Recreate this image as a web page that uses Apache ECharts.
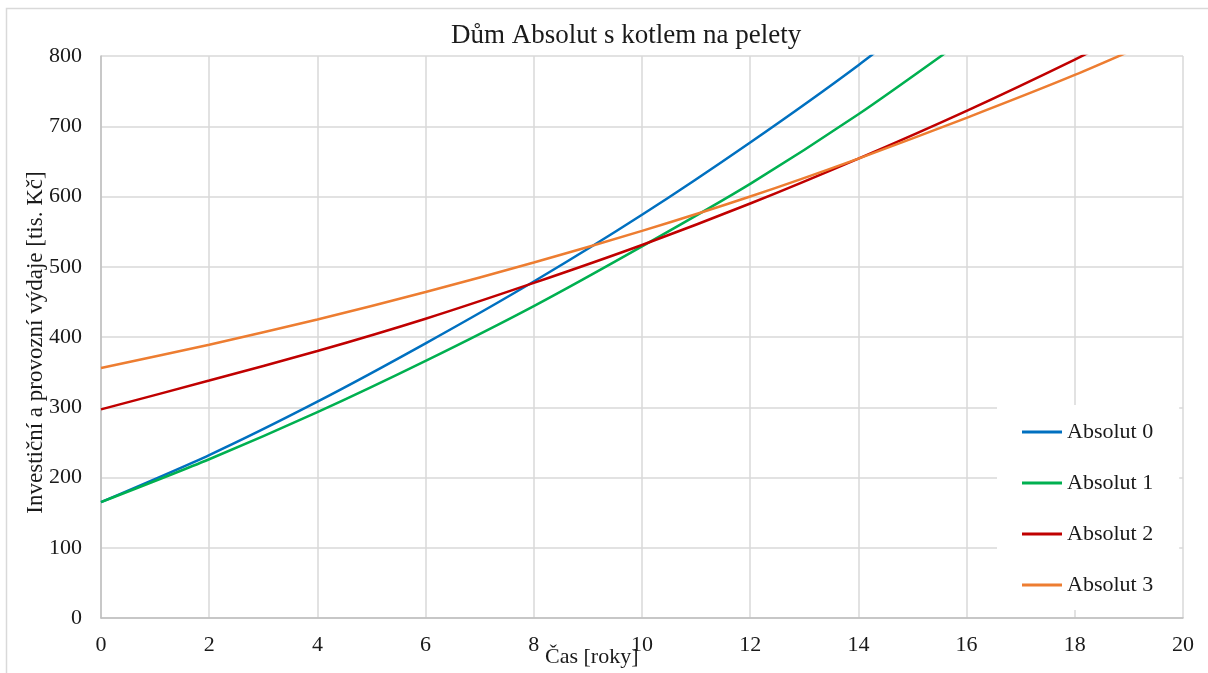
<!DOCTYPE html>
<html>
<head>
<meta charset="utf-8">
<script src="https://cdn.jsdelivr.net/npm/echarts@6/dist/echarts.min.js"></script>
<style>
html,body{margin:0;padding:0;background:#fff;}
#chart{width:1208px;height:673px;}
</style>
</head>
<body>
<div id="chart"></div>
<script>
const years = [0, 2, 4, 6, 8, 10, 12, 14, 16, 18, 20];
const absolut0 = [165, 232, 308, 391, 479, 574, 677, 787, 907, null, null];
const absolut1 = [165, 226, 293, 366, 444, 529, 618, 717, 826, null, null];
const absolut2 = [297, 338, 380, 426, 477, 531, 590, 654, 722, 795, 872];
const absolut3 = [356, 389, 425, 464, 506, 551, 600, 654, 712, 773, 840];
const seriesNames = ['Absolut 0', 'Absolut 1', 'Absolut 2', 'Absolut 3'];
const seriesColors = ['#0070C0', '#00B050', '#C00000', '#ED7D31'];
const xTicks = [0, 2, 4, 6, 8, 10, 12, 14, 16, 18, 20];
const yTicks = [0, 100, 200, 300, 400, 500, 600, 700, 800];

const FONT = '"Liberation Serif", "Times New Roman", serif';
const TXT = '#1a1a1a';
const allValues = [absolut0, absolut1, absolut2, absolut3];

const chart = echarts.init(document.getElementById('chart'));
chart.setOption({
  backgroundColor: '#fff',
  animation: false,
  graphic: [{
    type: 'rect', z: -10, silent: true,
    shape: { x: 6.5, y: 8.5, width: 1230, height: 700 },
    style: { fill: 'none', stroke: '#d9d9d9', lineWidth: 1.5 }
  }],
  title: [{
    text: 'Dům Absolut s kotlem na pelety',
    left: 451, top: 22, padding: 0,
    textStyle: { fontFamily: FONT, fontSize: 27, fontWeight: 'normal', color: TXT }
  }, {
    text: 'Čas [roky]',
    left: 545, top: 646, padding: 0,
    textStyle: { fontFamily: FONT, fontSize: 22, fontWeight: 'normal', color: TXT }
  }],
  grid: { left: 101, right: 25, top: 56, bottom: 55, containLabel: false },
  legend: {
    orient: 'vertical',
    left: 997, top: 405,
    padding: [16, 26, 14, 25],
    backgroundColor: '#fff',
    icon: 'rect',
    itemWidth: 40, itemHeight: 3, itemGap: 29,
    textStyle: { fontFamily: FONT, fontSize: 22, color: TXT, lineHeight: 22 },
    data: seriesNames
  },
  xAxis: {
    type: 'value', min: xTicks[0], max: xTicks[xTicks.length - 1], interval: 2,
    axisLine: { show: true, lineStyle: { color: '#bfbfbf', width: 1.5 } },
    axisTick: { show: false },
    axisLabel: { fontFamily: FONT, fontSize: 22, color: TXT, margin: 16 },
    splitLine: { show: true, lineStyle: { color: '#d9d9d9', width: 1.5 } }
  },
  yAxis: {
    type: 'value', min: yTicks[0], max: yTicks[yTicks.length - 1], interval: 100,
    name: 'Investiční a provozní výdaje [tis. Kč]',
    nameLocation: 'middle', nameGap: 54, nameMoveOverlap: false,
    nameTextStyle: { fontFamily: FONT, fontSize: 23, color: TXT, padding: [0, 11, 0, 0] },
    axisLine: { show: true, lineStyle: { color: '#bfbfbf', width: 1.5 } },
    axisTick: { show: false },
    axisLabel: { fontFamily: FONT, fontSize: 22, color: TXT, margin: 19 },
    splitLine: { show: true, lineStyle: { color: '#d9d9d9', width: 1.5 } }
  },
  series: seriesNames.map((name, i) => ({
    name: name,
    type: 'line',
    data: years.map((x, k) => [x, allValues[i][k]]),
    symbol: 'none',
    smooth: 0.25,
    clip: true,
    connectNulls: false,
    color: seriesColors[i],
    lineStyle: { color: seriesColors[i], width: 2.5 }
  }))
});
</script>
</body>
</html>
